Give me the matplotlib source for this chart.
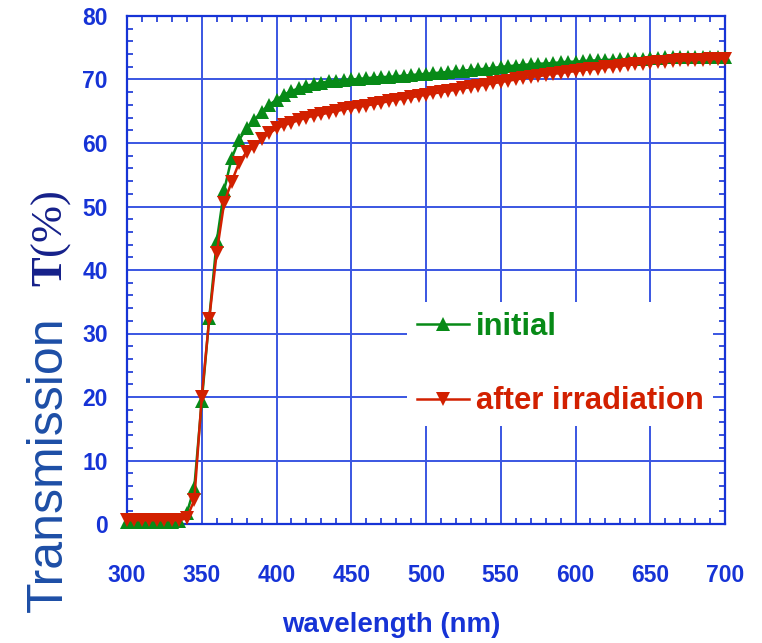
import matplotlib
matplotlib.use('Agg')
import matplotlib.pyplot as plt
from matplotlib import font_manager as fm
from matplotlib.ticker import MultipleLocator

names = {f.name for f in fm.fontManager.ttflist}
if 'Liberation Sans Narrow' in names:
    NARROW, NSCALE = 'Liberation Sans Narrow', 1.0
else:
    NARROW, NSCALE = 'Liberation Sans', 0.84

plt.rcParams['mathtext.fontset'] = 'custom'
plt.rcParams['mathtext.rm'] = 'Liberation Serif'
plt.rcParams['mathtext.it'] = 'Liberation Serif:italic'
plt.rcParams['mathtext.bf'] = 'Liberation Serif:bold'

wavelength = [300, 305, 310, 315, 320, 325, 330, 335, 340, 345,
              350, 355, 360, 365, 370, 375, 380, 385, 390, 395,
              400, 405, 410, 415, 420, 425, 430, 435, 440, 445,
              450, 455, 460, 465, 470, 475, 480, 485, 490, 495,
              500, 505, 510, 515, 520, 525, 530, 535, 540, 545,
              550, 555, 560, 565, 570, 575, 580, 585, 590, 595,
              600, 605, 610, 615, 620, 625, 630, 635, 640, 645,
              650, 655, 660, 665, 670, 675, 680, 685, 690, 695, 700]

initial = [0.3, 0.3, 0.3, 0.3, 0.3, 0.3, 0.3, 0.4, 1.7, 5.7,
           19.3, 32.4, 44.5, 52.6, 57.6, 60.5, 62.3, 63.6, 64.9, 66.0,
           66.8, 67.6, 68.2, 68.6, 69.0, 69.3, 69.5, 69.7, 69.8, 69.9,
           70.0, 70.1, 70.2, 70.3, 70.4, 70.4, 70.5, 70.6, 70.7, 70.8,
           70.9, 71.0, 71.1, 71.2, 71.3, 71.4, 71.5, 71.6, 71.7, 71.8,
           72.0, 72.1, 72.2, 72.3, 72.4, 72.5, 72.5, 72.6, 72.7, 72.8,
           72.8, 72.9, 73.0, 73.0, 73.1, 73.1, 73.2, 73.2, 73.3, 73.3,
           73.4, 73.4, 73.5, 73.5, 73.6, 73.6, 73.6, 73.5, 73.5, 73.5, 73.5]

after = [0.6, 0.6, 0.6, 0.6, 0.6, 0.6, 0.6, 0.6, 0.9, 3.8,
         20.0, 32.3, 42.7, 50.6, 53.9, 56.9, 58.6, 59.4, 60.7, 61.5,
         62.3, 62.8, 63.2, 63.6, 64.0, 64.3, 64.5, 64.8, 65.0, 65.3,
         65.5, 65.7, 65.9, 66.1, 66.3, 66.6, 66.8, 67.0, 67.2, 67.4,
         67.6, 67.8, 68.0, 68.2, 68.4, 68.6, 68.8, 69.0, 69.2, 69.4,
         69.6, 69.8, 70.0, 70.2, 70.4, 70.5, 70.7, 70.9, 71.0, 71.2,
         71.3, 71.5, 71.6, 71.7, 71.9, 72.0, 72.1, 72.3, 72.4, 72.5,
         72.6, 72.7, 72.8, 72.9, 73.0, 73.0, 73.1, 73.1, 73.2, 73.2, 73.3]

BLUE = '#1633d6'
GRID = '#3a56e2'
GREEN = '#078a17'
RED = '#d22000'

W, H = 762, 643
fig = plt.figure(figsize=(W / 100, H / 100), dpi=100)
ax = fig.add_axes([127 / W, (H - 524) / H, 598 / W, 508 / H])

ax.plot(wavelength, initial, color=GREEN, lw=1.8, marker='^', ms=10.5, mew=0,
        clip_on=False, zorder=3, label='initial')
ax.plot(wavelength, after, color=RED, lw=1.8, marker='v', ms=10.5, mew=0,
        clip_on=False, zorder=4, label='after irradiation')

ax.set_xlim(300, 700)
ax.set_ylim(0, 80)
ax.set_xticks(range(300, 701, 50))
ax.set_yticks(range(0, 81, 10))
ax.xaxis.set_minor_locator(MultipleLocator(10))
ax.yaxis.set_minor_locator(MultipleLocator(2))
ax.grid(True, which='major', color=GRID, lw=1.4)
ax.set_axisbelow(True)

ax.tick_params(which='both', direction='in', top=True, right=True,
               colors=BLUE)
ax.tick_params(which='minor', length=4.5, width=1.2)
ax.tick_params(which='major', length=0)
ax.tick_params(axis='y', pad=13.7, labelsize=16.5)
ax.tick_params(axis='x', pad=29, labelsize=16.5)
for lab in ax.get_xticklabels() + ax.get_yticklabels():
    lab.set_fontweight('bold')
    lab.set_family('Liberation Sans')
for s in ax.spines.values():
    s.set_color(BLUE)
    s.set_linewidth(1.6)

leg = ax.legend(loc='center',
                bbox_to_anchor=((560 - 127) / 598, (524 - 364) / 508),
                frameon=True, facecolor='white', edgecolor='none',
                framealpha=1, fancybox=False,
                prop={'family': NARROW, 'weight': 'bold', 'size': 26.6 * NSCALE},
                handlelength=1.7, handletextpad=0.2, labelspacing=1.45,
                borderpad=0.3)
for t, l in zip(leg.get_texts(), leg.get_lines()):
    t.set_color(l.get_color())

fig.text(62 / W, 1 - 612 / H, 'Transmission', rotation=90,
         rotation_mode='anchor', ha='left', va='baseline', fontsize=36,
         family='Liberation Sans', color='#1d4ea6')
fig.text(62 / W, 1 - 287 / H, r'$\mathbf{T}(\mathit{\%})$', rotation=90,
         rotation_mode='anchor', ha='left', va='baseline', fontsize=32,
         color='#15208a')
fig.text(391 / W, 1 - 625 / H, 'wavelength (nm)', ha='center', va='center',
         family=NARROW, weight='bold', size=23.7 * NSCALE, color=BLUE)

fig.savefig('out.png', dpi=100)
